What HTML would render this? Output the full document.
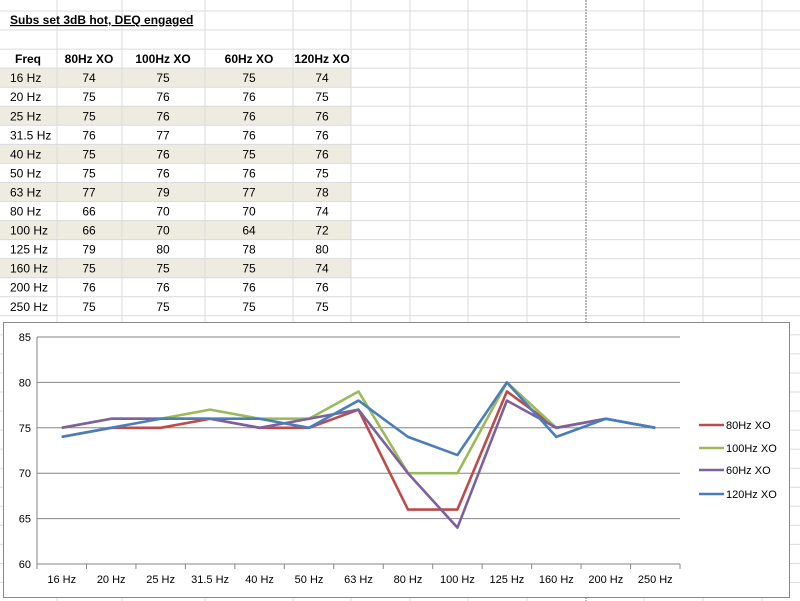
<!DOCTYPE html>
<html><head><meta charset="utf-8"><style>
body{margin:0;width:800px;height:601px;overflow:hidden;background:#fff;font-family:"Liberation Sans",sans-serif;position:relative}
</style></head><body>
<svg id="sheet" width="800" height="601" style="position:absolute;left:0;top:0"></svg>
<svg id="chart" width="800" height="601" style="position:absolute;left:0;top:0"></svg>
<script>
const cats=["16 Hz","20 Hz","25 Hz","31.5 Hz","40 Hz","50 Hz","63 Hz","80 Hz","100 Hz","125 Hz","160 Hz","200 Hz","250 Hz"];
const names=["80Hz XO","100Hz XO","60Hz XO","120Hz XO"];
const s80=[74,75,75,76,75,75,77,66,66,79,75,76,75];
const s100=[75,76,76,77,76,76,79,70,70,80,75,76,75];
const s60=[75,76,76,76,75,76,77,70,64,78,75,76,75];
const s120=[74,75,76,76,76,75,78,74,72,80,74,76,75];
const yTicks=[60,65,70,75,80,85];
const colors=["#be4b48","#9bbb59","#7d60a0","#4a7ebb"];
const series=[s80,s100,s60,s120];
const NS="http://www.w3.org/2000/svg";
function mk(p,tag,a,txt){const e=document.createElementNS(NS,tag);for(const k in a)e.setAttribute(k,a[k]);if(txt!==undefined)e.textContent=txt;p.appendChild(e);return e;}
const sh=document.getElementById('sheet');
const colX=[0,57,122,205,293,351,410,468,527,586,644,703,762];
const rowY=[];for(let i=0;i<32;i++)rowY.push(11+i*19.05);
for(let r=0;r<12;r++)if(r%2==0){const y=rowY[3+r];const e=mk(sh,'rect',{x:0,y:y,width:351,height:19,fill:'#eeece1'});

}
rowY.forEach(y=>{mk(sh,'line',{x1:0,x2:800,y1:y,y2:y,stroke:'#dadcdd'});});
colX.forEach(x=>{if(x>0)mk(sh,'line',{x1:x,x2:x,y1:0,y2:601,stroke:x==586?'#777':'#dadcdd','stroke-dasharray':x==586?'2,1':''});});
function txt(x,y,s,o){return mk(sh,'text',Object.assign({x:x,y:y,'font-size':12,'font-family':'Liberation Sans, sans-serif'},o||{}),s);}
const title=txt(10,24,'Subs set 3dB hot, DEQ engaged',{'font-weight':'bold','text-decoration':'underline'});


const hdr=['Freq'].concat(names);const cx=[28,89,163,249,322];
hdr.forEach((h,i)=>{const e=txt(cx[i],63,h,{'font-weight':'bold','text-anchor':'middle'});

});
cats.forEach((c,r)=>{const y=rowY[3+r]+14;
const e=txt(10,y,c);


series.forEach((s,j)=>{const v=txt(cx[j+1],y,String(s[r]),{'text-anchor':'middle'});

});});
const ch=document.getElementById('chart');
const box=mk(ch,'rect',{x:3.5,y:322.5,width:786,height:275,fill:'#fff',stroke:'#888'});


const L=37,R=680,T=337,B=564,ymin=60,ymax=85;
const yS=v=>B-(v-ymin)/(ymax-ymin)*(B-T);
const bw=(R-L)/cats.length;const xS=i=>L+(i+0.5)*bw;
yTicks.forEach(v=>{const g=mk(ch,'line',{x1:L,x2:R,y1:yS(v),y2:yS(v),stroke:'#868686'});


const t=mk(ch,'text',{x:L-6,y:yS(v)+4,'text-anchor':'end','font-size':11,fill:'#000','font-family':'Liberation Sans, sans-serif'},String(v));

});
mk(ch,'line',{x1:L,x2:L,y1:T,y2:B,stroke:'#868686'});
for(let i=0;i<=cats.length;i++)mk(ch,'line',{x1:L+i*bw,x2:L+i*bw,y1:B,y2:B+5,stroke:'#868686'});
cats.forEach((c,i)=>{const t=mk(ch,'text',{x:xS(i),y:B+19,'text-anchor':'middle','font-size':11,'font-family':'Liberation Sans, sans-serif'},c);

});
series.forEach((s,j)=>{const p=mk(ch,'polyline',{points:s.map((v,i)=>xS(i)+','+yS(v)).join(' '),fill:'none',stroke:colors[j],'stroke-width':2.6,'stroke-linejoin':'round'});


const ly=[425,448,470,494][j];
const g=mk(ch,'g',{});


mk(g,'line',{x1:699,x2:724,y1:ly,y2:ly,stroke:colors[j],'stroke-width':2.6});
mk(g,'text',{x:726,y:ly+4,'font-size':11,'font-family':'Liberation Sans, sans-serif'},names[j]);});
</script>
</body></html>
